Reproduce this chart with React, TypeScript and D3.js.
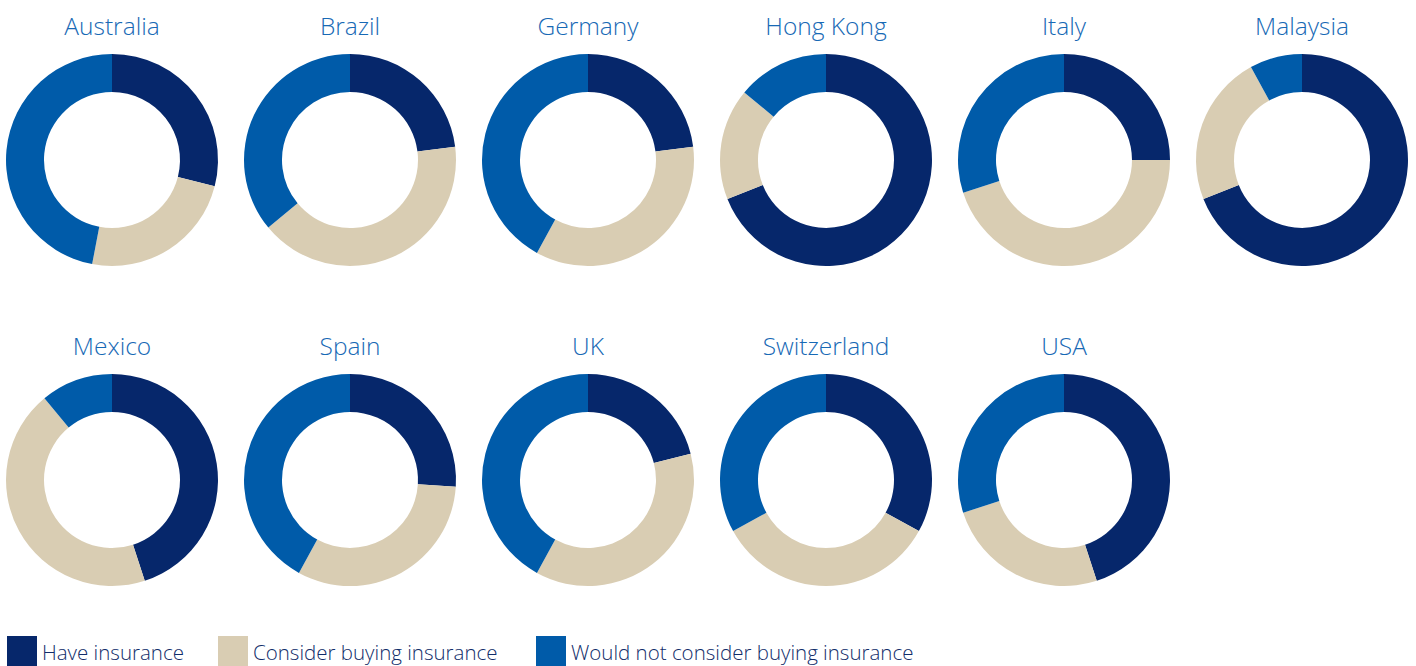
import * as d3 from "d3";
import React, { useEffect, useRef } from "react";

const countries = ["Australia", "Brazil", "Germany", "Hong Kong", "Italy", "Malaysia",
    "Mexico", "Spain", "UK", "Switzerland", "USA"];
const haveInsurance = [29, 23, 23, 69, 25, 69, 45, 26, 21, 33, 45];
const considerBuying = [24, 41, 35, 17, 45, 23, 44, 32, 37, 34, 25];
const wouldNotConsider = [47, 36, 42, 14, 30, 8, 11, 42, 42, 33, 30];
const seriesNames = ["Have insurance", "Consider buying insurance", "Would not consider buying insurance"];
const colors = ["#06276b", "#d9cdb3", "#005ba9"];

const App = () => {
    const svgRef = useRef<SVGSVGElement>(null);

    const width = 1416;
    const height = 666;
    const perRow = 6;
    const outerR = 106;
    const innerR = 68;

    useEffect(() => {
        const svg = d3.select(svgRef.current);
        svg.selectAll('*').remove();

        const xPos = d3.scaleLinear().domain([0, perRow - 1]).range([112, 1302]);
        const yPos = d3.scaleLinear().domain([0, 1]).range([160, 480]);

        const pie = d3.pie<number>().sort(null).value((d) => d);
        const arc = d3.arc<d3.PieArcDatum<number>>().innerRadius(innerR).outerRadius(outerR);

        countries.forEach((name, i) => {
            const values = [haveInsurance[i], considerBuying[i], wouldNotConsider[i]];
            const g = svg.append('g')
                .attr('transform', `translate(${xPos(i % perRow)}, ${yPos(Math.floor(i / perRow))})`);

            g.selectAll('path')
                .data(pie(values))
                .enter()
                .append('path')
                .attr('d', arc)
                .attr('fill', (d, j) => colors[j]);

            g.append('text')
                .attr('x', 0)
                .attr('y', -125)
                .attr('text-anchor', 'middle')
                .style('font', '300 24.5px "Open Sans"')
                .attr('fill', '#1769b5')
                .text(name);
        });

        // legend
        const legendX = [7, 218, 536];
        const legend = svg.append('g');
        seriesNames.forEach((s, i) => {
            legend.append('rect')
                .attr('x', legendX[i])
                .attr('y', 636)
                .attr('width', 30)
                .attr('height', 32)
                .attr('fill', colors[i]);
            legend.append('text')
                .attr('x', legendX[i] + 35)
                .attr('y', 660)
                .style('font', '300 20.5px "Open Sans"')
                .attr('fill', '#112d6a')
                .text(s);
        });
    }, []);

    return <svg ref={svgRef} width={width} height={height}
        style={{ position: 'absolute', left: 0, top: 0 }} />;
};

export default App;
